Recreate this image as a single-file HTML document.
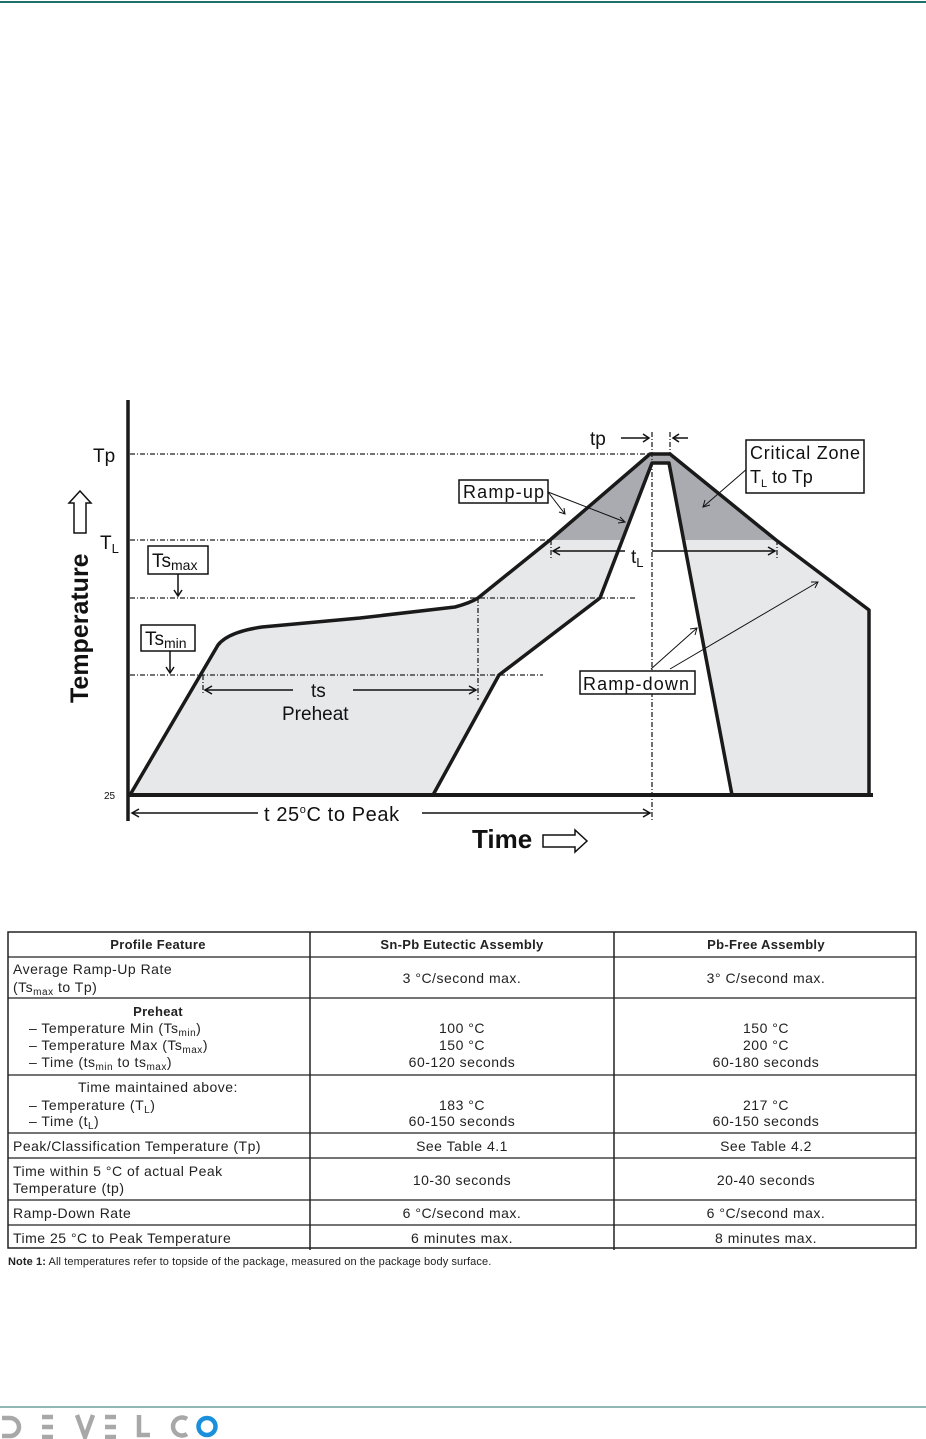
<!DOCTYPE html>
<html><head><meta charset="utf-8"><style>
html,body{margin:0;padding:0;background:#fff;}
svg{display:block;font-family:"Liberation Sans",Arial,sans-serif;}
</style></head><body>
<svg width="926" height="1439" viewBox="0 0 926 1439" xmlns="http://www.w3.org/2000/svg">
<rect x="0" y="0" width="926" height="1439" fill="#fff"/>
<line x1="0" y1="2" x2="926" y2="2" stroke="#1f6f6a" stroke-width="2"/>
<line x1="0" y1="1407" x2="926" y2="1407" stroke="#1f6f6a" stroke-width="1"/>

<polygon points="130,795 220,640 260,628 360,618 460,605 478,598 550,540 650,454 670,454 776,540 869,610 869,795" fill="#e7e8ea"/>
<polygon points="550,540 650,454 670,454 776,540" fill="#a9abb0"/>
<polygon points="433,795 499,675 600,598 652,463 669,463 732,795" fill="#fff"/>
<g stroke="#222" stroke-width="1.3" stroke-dasharray="5,2,1,2" fill="none">
<line x1="130" y1="454" x2="650" y2="454"/>
<line x1="130" y1="540" x2="550" y2="540"/>
<line x1="130" y1="598" x2="636" y2="598"/>
<line x1="130" y1="675" x2="543" y2="675"/>
<line x1="478" y1="598" x2="478" y2="700"/>
<line x1="203" y1="675" x2="203" y2="695"/>
<line x1="652" y1="432" x2="652" y2="822"/>
<line x1="670" y1="432" x2="670" y2="454"/>
<line x1="551" y1="540" x2="551" y2="558"/>
<line x1="777" y1="540" x2="777" y2="558"/>
</g>
<g stroke="#1a1a1a" stroke-width="3.5" fill="none" stroke-linejoin="round">
<path d="M130,795 L218,645 Q228,632 262,627 L360,618 L455,607 Q470,603 478,598 L550,540 L650,454 L670,454 L776,540 L869,610 L869,795"/>
<path d="M433,795 L499,675 L600,598 L652,463 L669,463 L732,795"/>
<line x1="128" y1="795" x2="873" y2="795" stroke-width="4"/>
<line x1="128" y1="400" x2="128" y2="821" stroke-width="3.5"/>
</g>
<g stroke="#111" stroke-width="1.5" fill="none">
<line x1="205" y1="690" x2="293" y2="690"/><line x1="353" y1="690" x2="476" y2="690"/>
<polyline points="212,686 205,690 212,694"/><polyline points="469,686 476,690 469,694"/>
<line x1="132" y1="813" x2="258" y2="813"/><line x1="422" y1="813" x2="650" y2="813"/>
<polyline points="139,809 132,813 139,817"/><polyline points="643,809 650,813 643,817"/>
<line x1="553" y1="551" x2="625" y2="551"/><line x1="652" y1="551" x2="775" y2="551"/>
<polyline points="560,547 553,551 560,555"/><polyline points="768,547 775,551 768,555"/>
<line x1="621" y1="438" x2="649" y2="438"/><polyline points="643,434 649,438 643,442"/>
<line x1="673" y1="438" x2="688" y2="438"/><polyline points="679,434 673,438 679,442"/>
<line x1="178" y1="574" x2="178" y2="596"/><polyline points="174,590 178,596 182,590"/>
<line x1="170" y1="651" x2="170" y2="673"/><polyline points="166,667 170,673 174,667"/>
<line x1="548" y1="492" x2="565" y2="514" stroke-width="1"/><polyline points="559,512 565,514 564,508" stroke-width="1"/>
<line x1="548" y1="492" x2="625" y2="522" stroke-width="1"/><polyline points="618,523 625,522 620,517" stroke-width="1"/>
<line x1="748" y1="468" x2="703" y2="507" stroke-width="1"/><polyline points="705,500 703,507 710,505" stroke-width="1"/>
<line x1="651" y1="669" x2="697" y2="628" stroke-width="1"/><polyline points="690,629 697,628 695,635" stroke-width="1"/>
<line x1="670" y1="669" x2="818" y2="582" stroke-width="1"/><polyline points="811,582 818,582 815,588" stroke-width="1"/>
<polygon points="74,533 74,503 69,503 80,491 91,503 86,503 86,533" stroke-width="1.5"/>
<polygon points="543,835 575,835 575,830 587,841 575,852 575,847 543,847" stroke-width="1.5"/>
</g>
<g fill="#fff" stroke="#111" stroke-width="1.5">
<rect x="459" y="480" width="89" height="23"/>
<rect x="746" y="440" width="118" height="53"/>
<rect x="148" y="546" width="60" height="28"/>
<rect x="141" y="625" width="54" height="26"/>
<rect x="580" y="671" width="115" height="23"/>
</g>
<g fill="#111" font-size="19">
<text x="93" y="462">Tp</text>
<text x="100" y="549">T<tspan font-size="13" dy="4">L</tspan></text>
<text x="152" y="567">Ts<tspan font-size="14" dy="3">max</tspan></text>
<text x="145" y="645">Ts<tspan font-size="14" dy="3">min</tspan></text>
<text x="463" y="498" font-size="18" textLength="81">Ramp-up</text>
<text x="750" y="459" font-size="18" textLength="110">Critical Zone</text>
<text x="750" y="483" font-size="18">T<tspan font-size="11" dy="4">L</tspan><tspan dy="-4"> to Tp</tspan></text>
<text x="583" y="690" font-size="18" textLength="106">Ramp-down</text>
<text x="590" y="445">tp</text>
<text x="631" y="563">t<tspan font-size="13" dy="4">L</tspan></text>
<text x="311" y="697">ts</text>
<text x="282" y="720" font-size="19">Preheat</text>
<text x="264" y="821" font-size="20" letter-spacing="0.6">t  25<tspan font-size="11" dy="-8">o</tspan><tspan dy="8">C to Peak</tspan></text>
<text x="472" y="848" font-size="26" font-weight="bold">Time</text>
<text x="104" y="799" font-size="10">25</text>
<text transform="translate(88,703) rotate(-90)" font-size="25" font-weight="bold">Temperature</text>
</g>

<g stroke="#222" stroke-width="1.2">
<rect x="8" y="932" width="908" height="316" fill="none" stroke-width="1.5"/>
<line x1="310" y1="932" x2="310" y2="1250" stroke-width="1.5"/>
<line x1="614" y1="932" x2="614" y2="1250" stroke-width="1.5"/>
<line x1="8" y1="957" x2="916" y2="957"/>
<line x1="8" y1="998" x2="916" y2="998"/>
<line x1="8" y1="1075" x2="916" y2="1075"/>
<line x1="8" y1="1133" x2="916" y2="1133"/>
<line x1="8" y1="1158" x2="916" y2="1158"/>
<line x1="8" y1="1200" x2="916" y2="1200"/>
<line x1="8" y1="1225" x2="916" y2="1225"/>
</g>
<g fill="#222" font-size="14" letter-spacing="0.5">
<g font-weight="bold" font-size="13" letter-spacing="0.3" text-anchor="middle">
<text x="158" y="949">Profile Feature</text>
<text x="462" y="949">Sn-Pb Eutectic Assembly</text>
<text x="766" y="949">Pb-Free Assembly</text>
<text x="158" y="1016">Preheat</text>
</g>
<text x="13" y="974">Average Ramp-Up Rate</text>
<text x="13" y="992">(Ts<tspan font-size="10" dy="3">max</tspan><tspan dy="-3"> to Tp)</tspan></text>
<text x="29" y="1033">–  Temperature Min (Ts<tspan font-size="10" dy="3">min</tspan><tspan dy="-3">)</tspan></text>
<text x="29" y="1050">–  Temperature Max (Ts<tspan font-size="10" dy="3">max</tspan><tspan dy="-3">)</tspan></text>
<text x="29" y="1067">–  Time (ts<tspan font-size="10" dy="3">min</tspan><tspan dy="-3"> to ts</tspan><tspan font-size="10" dy="3">max</tspan><tspan dy="-3">)</tspan></text>
<text x="158" y="1092" text-anchor="middle">Time maintained above:</text>
<text x="29" y="1110">–  Temperature (T<tspan font-size="10" dy="3">L</tspan><tspan dy="-3">)</tspan></text>
<text x="29" y="1126">–  Time (t<tspan font-size="10" dy="3">L</tspan><tspan dy="-3">)</tspan></text>
<text x="13" y="1151">Peak/Classification Temperature (Tp)</text>
<text x="13" y="1176">Time within 5 °C of actual Peak</text>
<text x="13" y="1193">Temperature (tp)</text>
<text x="13" y="1218">Ramp-Down Rate</text>
<text x="13" y="1243">Time 25 °C to Peak Temperature</text>
<g text-anchor="middle">
<text x="462" y="983">3 °C/second max.</text>
<text x="766" y="983">3° C/second max.</text>
<text x="462" y="1033">100 °C</text><text x="462" y="1050">150 °C</text><text x="462" y="1067">60-120 seconds</text>
<text x="766" y="1033">150 °C</text><text x="766" y="1050">200 °C</text><text x="766" y="1067">60-180 seconds</text>
<text x="462" y="1110">183 °C</text><text x="462" y="1126">60-150 seconds</text>
<text x="766" y="1110">217 °C</text><text x="766" y="1126">60-150 seconds</text>
<text x="462" y="1151">See Table 4.1</text><text x="766" y="1151">See Table 4.2</text>
<text x="462" y="1185">10-30 seconds</text><text x="766" y="1185">20-40 seconds</text>
<text x="462" y="1218">6 °C/second max.</text><text x="766" y="1218">6 °C/second max.</text>
<text x="462" y="1243">6 minutes max.</text><text x="766" y="1243">8 minutes max.</text>
</g>
<text x="8" y="1265" font-size="11" letter-spacing="0.1"><tspan font-weight="bold">Note 1:</tspan>  All temperatures refer to topside of the package, measured on the package body surface.</text>
</g>

<g fill="none" stroke="#a8a8a8" stroke-width="4.5">
<path d="M2,1418 L10,1418 A9,9 0 0 1 10,1436 L2,1436"/>
<path d="M42,1417 H53 M42,1427 H53 M42,1437 H53"/>
<path d="M77,1415 L85,1437 L93,1415"/>
<path d="M105,1417 H116 M105,1427 H116 M105,1437 H116"/>
<path d="M139,1415 V1435 H150"/>
<path d="M187,1419 A9,9 0 1 0 187,1434"/>
<circle cx="207" cy="1426.5" r="8.5" stroke="#1a8fdc"/>
</g>
</svg>
</body></html>
